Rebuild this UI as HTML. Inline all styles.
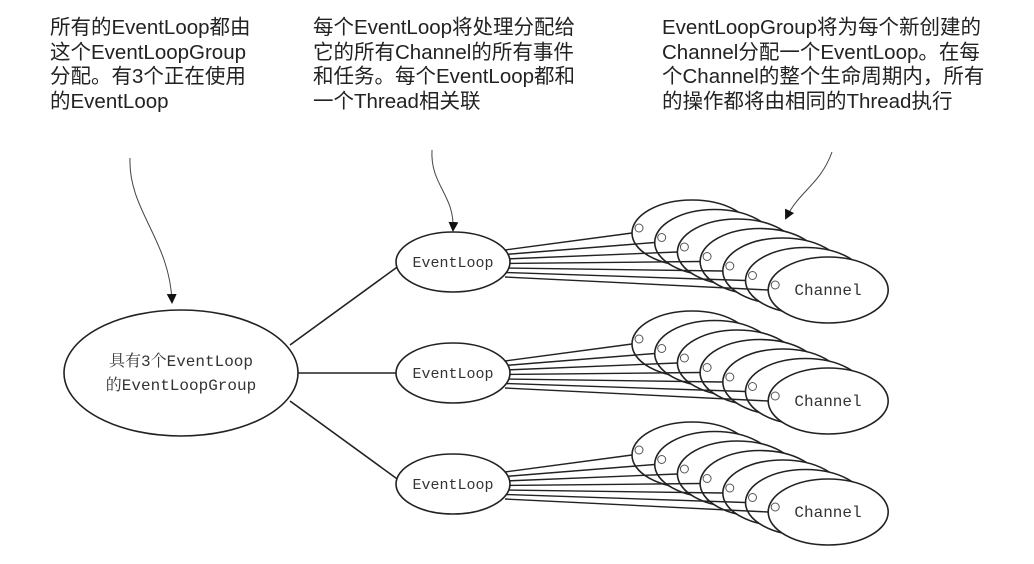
<!DOCTYPE html>
<html><head><meta charset="utf-8">
<style>
html,body{margin:0;padding:0;background:#fff;}
body{width:1034px;height:564px;position:relative;overflow:hidden;}
.t{position:absolute;font-family:"Liberation Sans","Noto Sans CJK SC",sans-serif;font-size:20.5px;line-height:24.5px;color:#222;white-space:nowrap;}
svg{position:absolute;left:0;top:0;}
</style></head><body>
<div class="t" style="left:50px;top:16px;">所有的EventLoop都由<br>这个EventLoopGroup<br>分配。有3个正在使用<br>的EventLoop</div>
<div class="t" style="left:313px;top:16px;">每个EventLoop将处理分配给<br>它的所有Channel的所有事件<br>和任务。每个EventLoop都和<br>一个Thread相关联</div>
<div class="t" style="left:662px;top:16px;">EventLoopGroup将为每个新创建的<br>Channel分配一个EventLoop。在每<br>个Channel的整个生命周期内，所有<br>的操作都将由相同的Thread执行</div>
<svg id="s" width="1034" height="564" viewBox="0 0 1034 564" xmlns="http://www.w3.org/2000/svg">
<defs><marker id="a" markerWidth="10" markerHeight="10" refX="8" refY="5" orient="auto" markerUnits="userSpaceOnUse"><path d="M0,0 L10,5 L0,10 z" fill="#111"/></marker></defs>
<g fill="none" stroke="#444" stroke-width="1">
<path d="M130,158 C128,210 170,240 172,302" marker-end="url(#a)"/>
<path d="M432,150 C430,185 455,195 453,230" marker-end="url(#a)"/>
<path d="M832,152 C820,185 800,190 786,218" marker-end="url(#a)"/>
</g>
<g stroke="#222" stroke-width="1.6" fill="none">
<line x1="290" y1="345" x2="400" y2="265"/>
<line x1="298" y1="373" x2="396" y2="373"/>
<line x1="290" y1="401" x2="400" y2="481"/>
</g>
<ellipse cx="181" cy="373" rx="117" ry="63" fill="#fff" stroke="#222" stroke-width="1.6"/>
<text x="181" y="366" text-anchor="middle" font-family="Liberation Mono,'Noto Serif CJK SC',monospace" font-size="16" fill="#333">具有3个EventLoop</text>
<text x="181" y="390" text-anchor="middle" font-family="Liberation Mono,'Noto Serif CJK SC',monospace" font-size="16" fill="#333">的EventLoopGroup</text>
<g id="g"></g>
</svg>
<script>
var g=document.getElementById('g'),ns='http://www.w3.org/2000/svg';
function el(n,a){var e=document.createElementNS(ns,n);for(var k in a)e.setAttribute(k,a[k]);g.appendChild(e);return e;}
[262,373,484].forEach(function(cy){
  for(var k=0;k<7;k++){
    var cx=692+k*22.7, y=cy-29+k*9.5;
    el('ellipse',{cx:cx,cy:y,rx:60,ry:33,fill:'#fff',stroke:'#222','stroke-width':1.6});
    el('circle',{cx:cx-53,cy:y-5,r:4,fill:'none',stroke:'#555','stroke-width':1});
    el('line',{x1:505,y1:cy-12+k*4.5,x2:cx-60,y2:y,stroke:'#222','stroke-width':1.4});
  }
  var t=el('text',{x:828,y:cy+33,'text-anchor':'middle','font-family':'Liberation Mono,monospace','font-size':16,fill:'#333'});t.textContent='Channel';
  el('ellipse',{cx:453,cy:cy,rx:57,ry:30,fill:'#fff',stroke:'#222','stroke-width':1.6});
  var t2=el('text',{x:453,y:cy+5,'text-anchor':'middle','font-family':'Liberation Mono,monospace','font-size':15,fill:'#333'});t2.textContent='EventLoop';
});
</script>
</body></html>
